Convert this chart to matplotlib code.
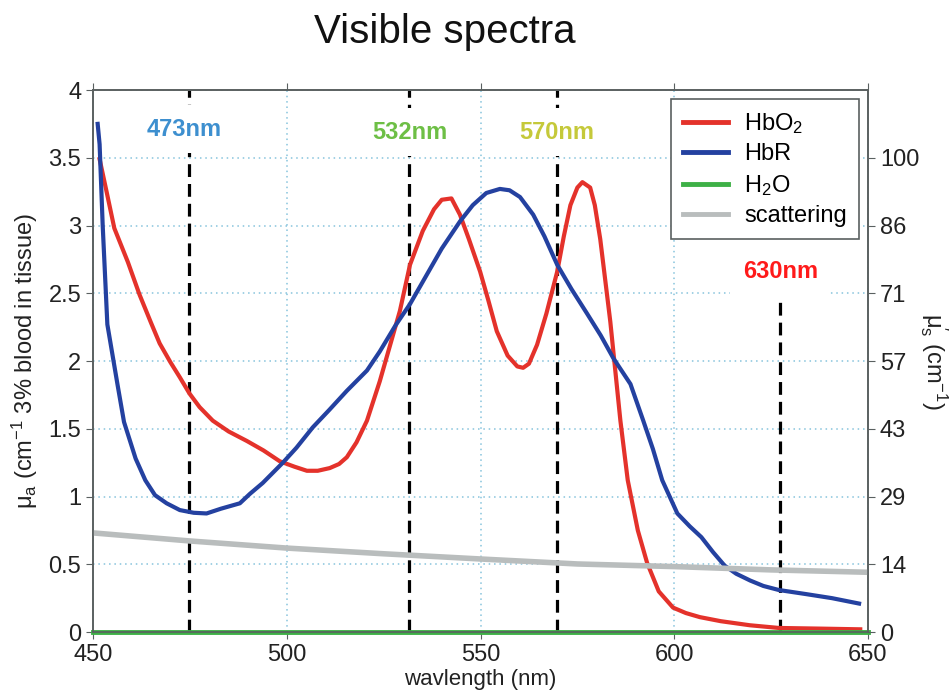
import matplotlib
matplotlib.use('Agg')
import matplotlib.pyplot as plt
from matplotlib.lines import Line2D

plt.rcParams['font.family'] = ['Liberation Sans', 'DejaVu Sans']
plt.rcParams['mathtext.fontset'] = 'custom'
plt.rcParams['mathtext.rm'] = 'Liberation Sans'
plt.rcParams['mathtext.it'] = 'Liberation Sans:italic'

# oxy-haemoglobin absorption (cm-1, 3% blood)
hbo2_wl = [451.7, 453.5, 455.5, 459, 462, 465, 467.2, 470, 472.4, 474.9, 477.5, 480.9,
           485, 489.7, 494, 498.2, 502, 505.2, 508, 511.1, 513.5, 515.5, 518, 520.7,
           524, 526.5, 529.2, 531.8, 535.1, 538, 540, 542.5, 544.7, 547, 549.9, 552,
           554.2, 557, 559.5, 561, 562.5, 564.6, 567, 569.8, 571.5, 573.2, 575, 576.3,
           578.3, 579.5, 580.9, 583.5, 586.1, 588, 590.6, 593, 596, 599.7, 603, 606.6,
           612, 619.5, 627, 638, 648]
hbo2 = [3.49, 3.25, 2.98, 2.73, 2.49, 2.28, 2.13, 1.99, 1.88, 1.76, 1.66, 1.56,
        1.48, 1.41, 1.34, 1.26, 1.22, 1.19, 1.19, 1.21, 1.24, 1.29, 1.40, 1.56,
        1.85, 2.10, 2.37, 2.71, 2.96, 3.12, 3.19, 3.20, 3.08, 2.90, 2.66, 2.45,
        2.22, 2.04, 1.96, 1.95, 1.98, 2.12, 2.35, 2.66, 2.92, 3.15, 3.28, 3.32,
        3.28, 3.15, 2.90, 2.29, 1.56, 1.12, 0.75, 0.51, 0.30, 0.18, 0.14, 0.11,
        0.08, 0.05, 0.03, 0.025, 0.02]

# deoxy-haemoglobin absorption
hbr_wl = [451.2, 451.7, 452.5, 453.7, 456.3, 458, 461, 463.5, 466, 469, 472.4, 476,
          479.3, 483, 487.9, 490.5, 493.8, 499, 502.5, 506.7, 511, 515.5, 520.7, 524,
          528, 531.8, 536, 540, 544.7, 548, 551.5, 555, 557.5, 560.2, 563.6, 566.5,
          569.8, 573.5, 577.5, 581, 584.3, 588.7, 592, 594.5, 596.9, 600.8, 604, 607,
          610, 613, 616, 619.6, 623, 627, 634, 640.7, 647.7]
hbr = [3.75, 3.6, 3.0, 2.27, 1.83, 1.55, 1.28, 1.12, 1.01, 0.95, 0.90, 0.88,
       0.875, 0.91, 0.95, 1.02, 1.10, 1.25, 1.36, 1.51, 1.64, 1.78, 1.93, 2.07,
       2.26, 2.42, 2.63, 2.83, 3.03, 3.15, 3.24, 3.27, 3.26, 3.21, 3.08, 2.92,
       2.71, 2.53, 2.35, 2.19, 2.02, 1.83, 1.56, 1.35, 1.12, 0.875, 0.78, 0.70,
       0.59, 0.49, 0.43, 0.38, 0.34, 0.31, 0.28, 0.25, 0.21]

# water absorption (practically zero here)
h2o_wl = [450, 500, 550, 600, 650]
h2o = [0.0, 0.0, 0.0, 0.0, 0.0]

# reduced scattering (right axis, cm-1)
scat_wl = [450, 475, 500, 525, 550, 575, 600, 625, 650]
scat = [20.9, 19.2, 17.7, 16.5, 15.4, 14.35, 13.8, 13.1, 12.6]

# laser lines
laser_pos = [474.8, 531.6, 569.8, 627.4]
laser_top = [4.0, 4.0, 4.0, 2.5]
laser_text = ['473nm', '532nm', '570nm', '630nm']
laser_col = ['#3d8fcf', '#6dbf45', '#c5c93a', '#ff1a1a']
laser_tx = [473.6, 531.8, 569.8, 627.4]
laser_ty = [3.71, 3.69, 3.69, 2.66]

right_ticks = [0, 14, 29, 43, 57, 71, 86, 100]

fig = plt.figure(figsize=(9.53, 6.94), dpi=100)
ax = fig.add_axes([0.0976, 0.0893, 0.8132, 0.781])
ax2 = ax.twinx()

ax.plot(hbo2_wl, hbo2, color='#e4322b', lw=3, zorder=3)
ax.plot(hbr_wl, hbr, color='#2441a0', lw=3, zorder=3)
ax.plot(h2o_wl, h2o, color='#3db046', lw=3.5, zorder=4, clip_on=False)
ax2.plot(scat_wl, scat, color='#b9bdbd', lw=4, zorder=2)

ax.vlines(laser_pos, 0, laser_top, colors='k', lw=2.3, linestyles=(0, (4, 2.2)), zorder=2)
for t, x, y, c in zip(laser_text, laser_tx, laser_ty, laser_col):
    ax.text(x, y, t, color=c, fontsize=17, fontweight='bold', ha='center', va='center',
            zorder=5, bbox=dict(facecolor='white', edgecolor='none', pad=9))

ax.set_xlim(450, 650)
ax.set_ylim(0, 4)
ax.set_xticks([450, 500, 550, 600, 650])
ax.set_yticks([0, 0.5, 1, 1.5, 2, 2.5, 3, 3.5, 4])
ax.set_yticklabels(['0', '0.5', '1', '1.5', '2', '2.5', '3', '3.5', '4'])
ax.grid(True, linestyle=(0, (1, 2.5)), color='#86c3dc', lw=1.1)

ymax2 = 4 * 100 / 3.5
ax2.set_ylim(0, ymax2)
ax2.set_yticks([k * 100 / 7 for k in range(8)])
ax2.set_yticklabels([str(v) for v in right_ticks])

for a in (ax, ax2):
    for s in a.spines.values():
        s.set_color('#5a6060')
        s.set_linewidth(1.2)
    a.tick_params(labelsize=17, colors='#5a6060', labelcolor='#222222', direction='out', length=5)
ax.tick_params(top=True)

ax.set_xlabel('wavlength (nm)', fontsize=16, color='#222222', labelpad=2)
ax.set_ylabel('μ$_{\\mathrm{a}}$ (cm$^{-1}$ 3% blood in tissue)', fontsize=17, color='#222222', labelpad=6)
ax2.set_ylabel('μ$^{\\prime}_{\\mathrm{s}}$ (cm$^{-1}$)', fontsize=17, color='#222222',
               rotation=-90, labelpad=22)

handles = [Line2D([], [], color='#e4322b', lw=3.5),
           Line2D([], [], color='#2441a0', lw=3.5),
           Line2D([], [], color='#3db046', lw=3.5),
           Line2D([], [], color='#b9bdbd', lw=3.5)]
labels = ['HbO$_2$', 'HbR', 'H$_2$O', 'scattering']
leg = ax2.legend(handles, labels, loc='upper right', bbox_to_anchor=(0.988, 0.983),
                 borderaxespad=0, fontsize=17, fancybox=False, framealpha=1,
                 edgecolor='#5a6060', handlelength=1.9, labelspacing=0.32,
                 borderpad=0.5, handletextpad=0.7)
leg.get_frame().set_linewidth(1.2)

fig.text(0.467, 0.954, 'Visible spectra', fontsize=29, ha='center', va='center', color='#111111')

fig.savefig('out.png', dpi=100)
